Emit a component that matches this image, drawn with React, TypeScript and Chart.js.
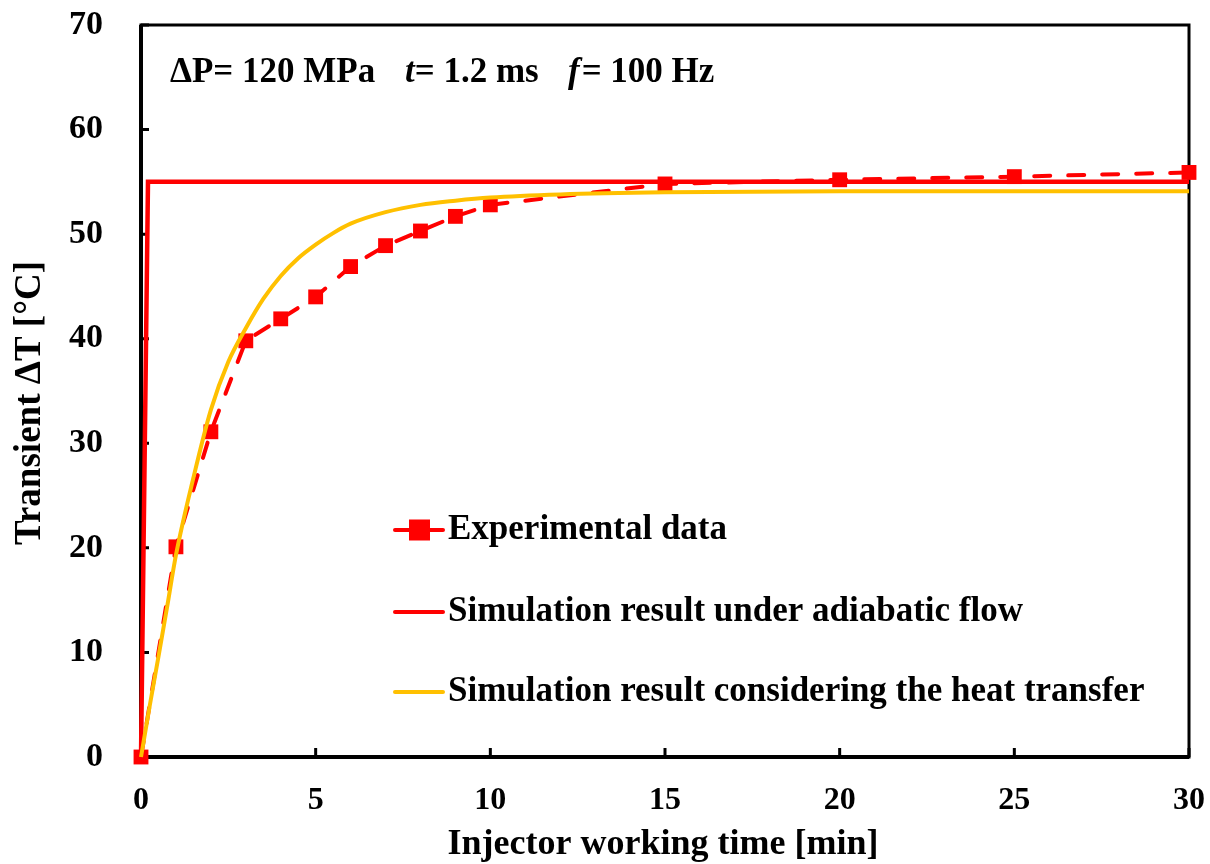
import React, { useEffect, useRef } from "react";
import { Chart, registerables } from "chart.js";

Chart.register(...registerables);

// ---- data ----
const expX = [0, 1, 2, 3, 4, 5, 6, 7, 8, 9, 10, 15, 20, 25, 30];
const expY = [0, 20.1, 31.1, 39.8, 41.9, 44.0, 46.9, 48.9, 50.3, 51.7, 52.8, 54.8, 55.2, 55.5, 55.9];

const adiaX = [0, 0.2, 30];
const adiaY = [0, 55.0, 55.0];

const heatX = [0, 0.25, 0.5, 0.75, 1, 1.5, 2, 2.5, 3, 3.5, 4, 4.5, 5, 5.5, 6, 7, 8, 9, 10, 12, 15, 20, 25, 30];
const heatY = [0, 4.9, 9.6, 14.4, 19.3, 26.7, 33.2, 37.8, 41.0, 43.8, 46.0, 47.7, 49.0, 50.1, 51.0, 52.1, 52.8, 53.2, 53.5, 53.8, 54.0, 54.1, 54.1, 54.1];

const xTicks = [0, 5, 10, 15, 20, 25, 30];
const yTicks = [0, 10, 20, 30, 40, 50, 60, 70];

const legendLabels = [
  "Experimental data",
  "Simulation result under adiabatic flow",
  "Simulation result considering the heat transfer",
];
const xTitle = "Injector working time [min]";
const yTitle = "Transient \u0394T [\u00B0C]";

const RED = "#FF0000";
const GOLD = "#FFC000";
const FONT = "'Liberation Serif', 'Times New Roman', serif";

const toPts = (xs: number[], ys: number[]) => xs.map((x, i) => ({ x, y: ys[i] }));

const zeroPad = (s: any) => {
  s.paddingTop = 0;
  s.paddingBottom = 0;
  s.paddingLeft = 0;
  s.paddingRight = 0;
};

const decorPlugin = {
  id: "decor",
  beforeDatasetsDraw(chart: any) {
    const { ctx, chartArea } = chart;
    const { left, right, top, bottom } = chartArea;
    const xs = chart.scales.x;
    const ys = chart.scales.y;
    ctx.save();
    ctx.strokeStyle = "#000";
    ctx.lineWidth = 3;
    ctx.strokeRect(left, top, right - left, bottom - top);
    ctx.lineWidth = 4;
    ctx.beginPath();
    ctx.moveTo(left, top);
    ctx.lineTo(left, bottom);
    ctx.lineTo(right, bottom);
    ctx.stroke();
    ctx.lineWidth = 3;
    ctx.beginPath();
    xTicks.forEach((v) => {
      const px = xs.getPixelForValue(v);
      ctx.moveTo(px, bottom);
      ctx.lineTo(px, bottom - 9);
    });
    yTicks.forEach((v) => {
      const py = ys.getPixelForValue(v);
      ctx.moveTo(left, py);
      ctx.lineTo(left + 8, py);
    });
    ctx.stroke();
    ctx.restore();
  },
  afterDraw(chart: any) {
    const { ctx, chartArea } = chart;
    ctx.save();
    ctx.fillStyle = "#000";
    ctx.textBaseline = "alphabetic";
    ctx.textAlign = "left";
    // annotation
    const base = 82;
    const bold = `bold 35px ${FONT}`;
    const ital = `italic bold 35px ${FONT}`;
    ctx.font = bold;
    ctx.fillText("\u0394P= 120 MPa", 170, base);
    ctx.font = ital;
    ctx.fillText("t", 405, base);
    let w = ctx.measureText("t").width;
    ctx.font = bold;
    ctx.fillText("= 1.2 ms", 405 + w, base);
    ctx.font = ital;
    ctx.fillText("f", 568, base);
    w = ctx.measureText("f").width;
    ctx.font = bold;
    ctx.fillText("= 100 Hz", 568 + w + 2, base);

    // legend
    const rows = [530, 612, 692];
    const x0 = 395, x1 = 443;
    ctx.lineCap = "round";
    rows.forEach((y, i) => {
      ctx.lineWidth = 4;
      ctx.strokeStyle = i === 2 ? GOLD : RED;
      ctx.beginPath();
      ctx.moveTo(x0, y);
      ctx.lineTo(x1, y);
      ctx.stroke();
      if (i === 0) {
        ctx.fillStyle = RED;
        ctx.fillRect(409, y - 10.5, 21, 21);
      }
      ctx.fillStyle = "#000";
      ctx.font = `bold 35px ${FONT}`;
      ctx.textBaseline = "middle";
      ctx.fillText(legendLabels[i], 448, y);
    });

    // axis titles
    ctx.textAlign = "center";
    ctx.textBaseline = "middle";
    ctx.font = `bold 36px ${FONT}`;
    ctx.fillText(xTitle, (chartArea.left + chartArea.right) / 2 - 2, 845);
    ctx.save();
    ctx.translate(30, 403);
    ctx.rotate(-Math.PI / 2);
    ctx.font = `bold 37px ${FONT}`;
    ctx.fillText(yTitle, 0, 0);
    ctx.restore();
    ctx.restore();
  },
};

export default function App() {
  const ref = useRef<HTMLCanvasElement | null>(null);
  useEffect(() => {
    if (!ref.current) return;
    const chart = new Chart(ref.current, {
      type: "line",
      data: {
        datasets: [
          {
            label: legendLabels[2],
            data: toPts(heatX, heatY),
            borderColor: GOLD,
            borderWidth: 4,
            pointRadius: 0,
            cubicInterpolationMode: "monotone",
            clip: false,
          } as any,
          {
            label: legendLabels[0],
            data: toPts(expX, expY),
            borderColor: RED,
            backgroundColor: RED,
            borderWidth: 4,
            borderDash: [16, 18],
            borderCapStyle: "round",
            pointStyle: "rect",
            pointRadius: 10.5,
            pointBorderWidth: 0,
            pointBackgroundColor: RED,
            clip: false,
          } as any,
          {
            label: legendLabels[1],
            data: toPts(adiaX, adiaY),
            borderColor: RED,
            borderWidth: 4.5,
            pointRadius: 0,
            tension: 0,
            clip: false,
          } as any,
        ],
      },
      options: {
        animation: false,
        responsive: false,
        maintainAspectRatio: false,
        events: [],
        layout: { autoPadding: false, padding: { left: 0, top: 25, right: 21, bottom: 0 } },
        plugins: { legend: { display: false }, tooltip: { enabled: false }, title: { display: false } },
        scales: {
          x: {
            type: "linear",
            min: 0,
            max: 30,
            afterBuildTicks: (s: any) => {
              s.ticks = xTicks.map((v) => ({ value: v }));
            },
            afterFit: (s: any) => {
              s.height = 107;
              zeroPad(s);
            },
            grid: { display: false, drawTicks: false },
            border: { display: false },
            ticks: {
              color: "#000",
              padding: 25,
              font: { family: FONT, size: 32, weight: "bold" },
              maxRotation: 0,
            },
          },
          y: {
            type: "linear",
            min: 0,
            max: 70,
            afterBuildTicks: (s: any) => {
              s.ticks = yTicks.map((v) => ({ value: v }));
            },
            afterFit: (s: any) => {
              s.width = 141;
              zeroPad(s);
            },
            grid: { display: false, drawTicks: false },
            border: { display: false },
            ticks: {
              color: "#000",
              padding: 38,
              font: { family: FONT, size: 34, weight: "bold" },
            },
          },
        },
      } as any,
      plugins: [decorPlugin],
    });
    return () => chart.destroy();
  }, []);
  return (
    <div style={{ position: "absolute", left: 0, top: 0, width: 1210, height: 864, background: "#fff" }}>
      <canvas ref={ref} width={1210} height={864} style={{ display: "block" }} />
    </div>
  );
}
